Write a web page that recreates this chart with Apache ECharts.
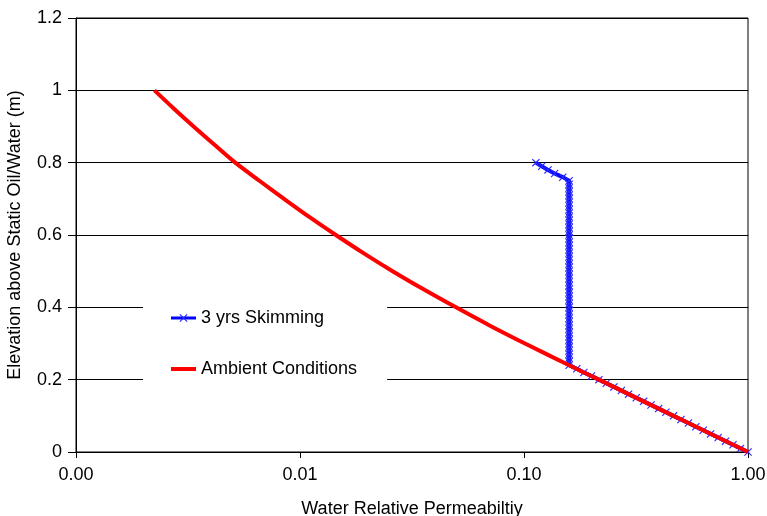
<!DOCTYPE html>
<html>
<head>
<meta charset="utf-8">
<script src="https://cdn.jsdelivr.net/npm/echarts@6/dist/echarts.min.js"></script>
<style>
html,body{margin:0;padding:0;background:#fff;}
#chart{width:767px;height:516px;}
</style>
</head>
<body>
<div id="chart"></div>
<script>
// ---- data ----
const xTickLabels = ['0.00', '0.01', '0.10', '1.00'];
const yTickLabels = ['0', '0.2', '0.4', '0.6', '0.8', '1', '1.2'];

const skimmingY = [
  0.80, 0.79, 0.78, 0.77, 0.76, 0.75, 0.74, 0.73, 0.72, 0.71,
  0.70, 0.69, 0.68, 0.67, 0.66, 0.65, 0.64, 0.63, 0.62, 0.61,
  0.60, 0.59, 0.58, 0.57, 0.56, 0.55, 0.54, 0.53, 0.52, 0.51,
  0.50, 0.49, 0.48, 0.47, 0.46, 0.45, 0.44, 0.43, 0.42, 0.41,
  0.40, 0.39, 0.38, 0.37, 0.36, 0.35, 0.34, 0.33, 0.32, 0.31,
  0.30, 0.29, 0.28, 0.27, 0.26, 0.25, 0.24, 0.23, 0.22, 0.21,
  0.20, 0.19, 0.18, 0.17, 0.16, 0.15, 0.14, 0.13, 0.12, 0.11,
  0.10, 0.09, 0.08, 0.07, 0.06, 0.05, 0.04, 0.03, 0.02, 0.01,
  0.00
];
const skimmingX = [
  0.113, 0.120, 0.128, 0.137, 0.149, 0.159, 0.159, 0.159, 0.159, 0.159,
  0.159, 0.159, 0.159, 0.159, 0.159, 0.159, 0.159, 0.159, 0.159, 0.159,
  0.159, 0.159, 0.159, 0.159, 0.159, 0.159, 0.159, 0.159, 0.159, 0.159,
  0.159, 0.159, 0.159, 0.159, 0.159, 0.159, 0.159, 0.159, 0.159, 0.159,
  0.159, 0.159, 0.159, 0.159, 0.159, 0.159, 0.159, 0.159, 0.159, 0.159,
  0.159, 0.159, 0.159, 0.159, 0.159, 0.159, 0.159, 0.172, 0.185, 0.200,
  0.216, 0.233, 0.252, 0.272, 0.293, 0.317, 0.342, 0.369, 0.399, 0.430,
  0.465, 0.502, 0.542, 0.585, 0.631, 0.681, 0.736, 0.794, 0.857, 0.926,
  1.000
];

const ambientY = [
  1.00, 0.95, 0.90, 0.85, 0.80, 0.75, 0.70, 0.65, 0.60, 0.55,
  0.50, 0.45, 0.40, 0.35, 0.30, 0.24, 0.20, 0.16, 0.12, 0.08,
  0.04, 0.00
];
const ambientX = [
  0.00224, 0.00273, 0.00335, 0.00414, 0.00514, 0.00659, 0.00849, 0.0110, 0.01445, 0.0192,
  0.0259, 0.0356, 0.0497, 0.0702, 0.101, 0.159, 0.216, 0.293, 0.399, 0.542,
  0.736, 1.000
];

function pairs(xs, ys) { return xs.map((x, i) => [x, ys[i]]); }

const FONT = 'Liberation Sans, Arial, sans-serif';
const crossPath = 'path://M0,1 L1,0 L5,4 L9,0 L10,1 L6,5 L10,9 L9,10 L5,6 L1,10 L0,9 L4,5 Z';

const chart = echarts.init(document.getElementById('chart'), null, {renderer: 'canvas'});
chart.setOption({
  animation: false,
  backgroundColor: '#fff',
  textStyle: {fontFamily: FONT},
  grid: {
    left: 76, right: 19, top: 18, bottom: 64,
    containLabel: false, outerBoundsMode: 'none',
    show: true, borderColor: '#000', borderWidth: 1, backgroundColor: 'transparent'
  },
  legend: {
    orient: 'vertical',
    left: 143,
    top: 290,
    padding: [18, 30, 12, 26],
    backgroundColor: '#fff',
    itemWidth: 25,
    itemHeight: 10,
    itemGap: 31,
    textStyle: {fontSize: 18, color: '#000', fontFamily: FONT, lineHeight: 20},
    data: [
      {name: '3 yrs Skimming', lineStyle: {width: 3, color: '#0000ff'}},
      {name: 'Ambient Conditions', lineStyle: {width: 4, color: '#ff0000'}, itemStyle: {opacity: 0}}
    ]
  },
  xAxis: {
    type: 'log',
    logBase: 10,
    min: 0.001,
    max: 1,
    name: 'Water Relative Permeabiltiy',
    nameLocation: 'middle',
    nameGap: 48,
    nameTextStyle: {fontSize: 18, color: '#000', fontFamily: FONT},
    axisLine: {lineStyle: {color: '#000', width: 1}},
    axisTick: {show: true, length: 6, lineStyle: {color: '#000'}},
    minorTick: {show: false},
    splitLine: {show: false},
    axisLabel: {
      fontSize: 18, color: '#000', margin: 14, fontFamily: FONT,
      formatter: function (v) {
        const idx = Math.round(Math.log10(v) + 3);
        return xTickLabels[idx] !== undefined ? xTickLabels[idx] : '';
      }
    }
  },
  yAxis: {
    type: 'value',
    min: 0,
    max: 1.2,
    interval: 0.2,
    name: 'Elevation above Static Oil/Water (m)',
    nameLocation: 'middle',
    nameGap: 52,
    nameTextStyle: {fontSize: 18, color: '#000', fontFamily: FONT},
    axisLine: {show: true, lineStyle: {color: '#000', width: 1}},
    axisTick: {show: true, length: 8, lineStyle: {color: '#000'}},
    splitLine: {show: true, lineStyle: {color: '#000', width: 1}},
    axisLabel: {
      fontSize: 18, color: '#000', margin: 14, fontFamily: FONT,
      formatter: function (v) {
        const idx = Math.round(v / 0.2);
        return yTickLabels[idx] !== undefined ? yTickLabels[idx] : '';
      }
    }
  },
  series: [
    {
      name: '3 yrs Skimming',
      type: 'line',
      data: pairs(skimmingX, skimmingY),
      symbol: crossPath,
      symbolSize: 8,
      showAllSymbol: true,
      lineStyle: {color: '#0000ff', width: 4},
      itemStyle: {color: '#2a2aff'},
      z: 2
    },
    {
      name: 'Ambient Conditions',
      type: 'line',
      data: pairs(ambientX, ambientY),
      symbol: 'none',
      smooth: 0.3,
      lineStyle: {color: '#ff0000', width: 4},
      itemStyle: {color: '#ff0000'},
      z: 3
    }
  ]
});
</script>
</body>
</html>
